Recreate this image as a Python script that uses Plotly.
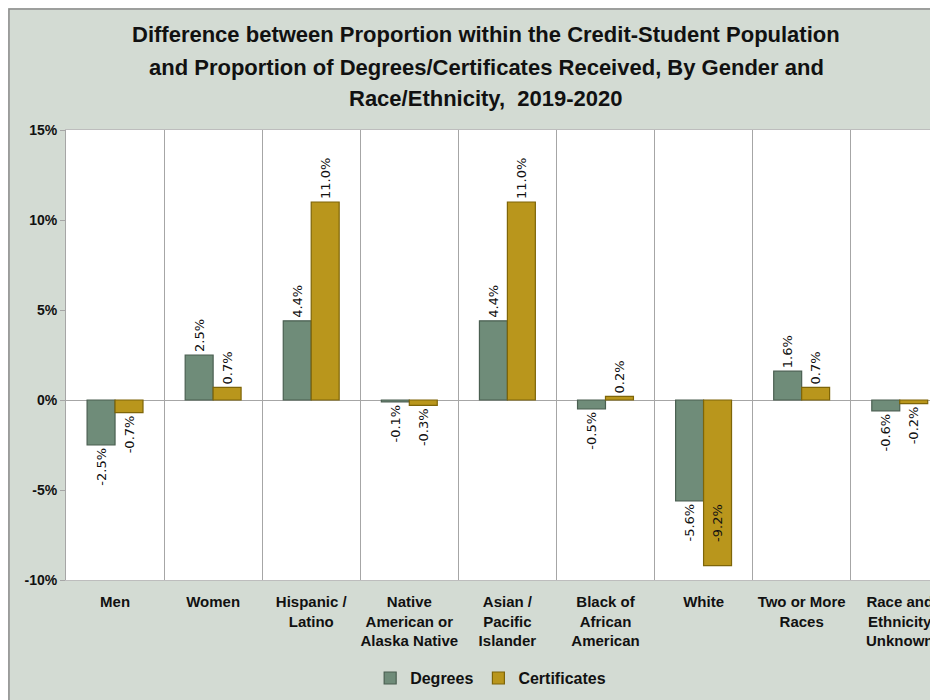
import plotly.graph_objects as go

categories = ["Men", "Women", "Hispanic /<br>Latino", "Native<br>American or<br>Alaska Native",
              "Asian /<br>Pacific<br>Islander", "Black of<br>African<br>American", "White",
              "Two or More<br>Races", "Race and<br>Ethnicity<br>Unknown"]
degrees = [-2.5, 2.5, 4.4, -0.1, 4.4, -0.5, -5.6, 1.6, -0.6]
certificates = [-0.7, 0.7, 11.0, -0.3, 11.0, 0.2, -9.2, 0.7, -0.2]
ytick_vals = [-10, -5, 0, 5, 10, 15]
ytick_text = ["-10%", "-5%", "0%", "5%", "10%", "15%"]
title_lines = ["Difference between Proportion within the Credit-Student Population",
               "and Proportion of Degrees/Certificates Received, By Gender and",
               "Race/Ethnicity,  2019-2020"]

BOLD = "Liberation Sans, Arial, sans-serif"
LABEL_FONT = dict(family="DejaVu Sans", size=13, color="#111111")
NBSP = "\u00a0"


def labels(vals):
    out = []
    for v in vals:
        s = f"{v:.1f}%"
        if v < -8:
            s = NBSP * 5 + s
        out.append(s)
    return out


def positions(vals):
    return ["inside" if v < -8 else "outside" for v in vals]


fig = go.Figure()
fig.add_trace(go.Bar(
    name="Degrees", x=categories, y=degrees,
    marker=dict(color="#6F8C79", line=dict(color="#4A5F51", width=1.2)),
    text=labels(degrees), textposition=positions(degrees), textangle=-90,
    textfont=LABEL_FONT, insidetextfont=LABEL_FONT, outsidetextfont=LABEL_FONT,
    insidetextanchor="end", constraintext="none", cliponaxis=False,
))
fig.add_trace(go.Bar(
    name="Certificates", x=categories, y=certificates,
    marker=dict(color="#B9961C", line=dict(color="#7E6508", width=1.2)),
    text=labels(certificates), textposition=positions(certificates), textangle=-90,
    textfont=LABEL_FONT, insidetextfont=LABEL_FONT, outsidetextfont=LABEL_FONT,
    insidetextanchor="end", constraintext="none", cliponaxis=False,
))

# title as three centred lines (reference line centres at y = 34, 67, 98 px)
title_y = [1.2133, 1.14, 1.0711]
annotations = [
    dict(text=t, xref="paper", yref="paper", x=0.4817, y=yy, xanchor="center", yanchor="middle",
         showarrow=False, font=dict(family=BOLD, size=22, color="#111111", weight="bold"))
    for t, yy in zip(title_lines, title_y)
]

fig.update_layout(
    width=930, height=692,
    margin=dict(l=58, r=0, t=122, b=120),
    paper_bgcolor="#D3DBD3",
    plot_bgcolor="#FFFFFF",
    barmode="group", bargap=0.43, bargroupgap=0,
    showlegend=True,
    legend=dict(
        orientation="h", x=0.487, xanchor="center", y=-0.218, yanchor="middle",
        font=dict(family=BOLD, size=16, color="#111111", weight="bold"),
        bgcolor="rgba(0,0,0,0)", traceorder="normal",
    ),
    xaxis=dict(
        type="category", range=[-0.5, 8.39], tickson="boundaries",
        showgrid=True, gridcolor="#A6A6A6", gridwidth=1,
        ticks="", showline=True, linecolor="#BDBDBD", mirror=True,
        tickfont=dict(family=BOLD, size=15, color="#111111", weight="bold"),
        tickangle=0, ticklabelstandoff=8,
    ),
    yaxis=dict(
        range=[-10, 15], tickvals=ytick_vals, ticktext=ytick_text,
        showgrid=False, zeroline=True, zerolinecolor="#A6A6A6", zerolinewidth=1,
        showline=True, linecolor="#A6A6A6", ticks="outside", ticklen=5, tickcolor="#A6A6A6",
        tickfont=dict(family=BOLD, size=14, color="#111111", weight="bold"),
    ),
    annotations=annotations,
    shapes=[dict(type="rect", xref="paper", yref="paper", x0=-0.0654, x1=1.2, y0=-0.5, y1=1.269,
                 line=dict(color="#8C8C8C", width=1.5), fillcolor="rgba(0,0,0,0)", layer="below")],
)

fig.write_html("out.html")
